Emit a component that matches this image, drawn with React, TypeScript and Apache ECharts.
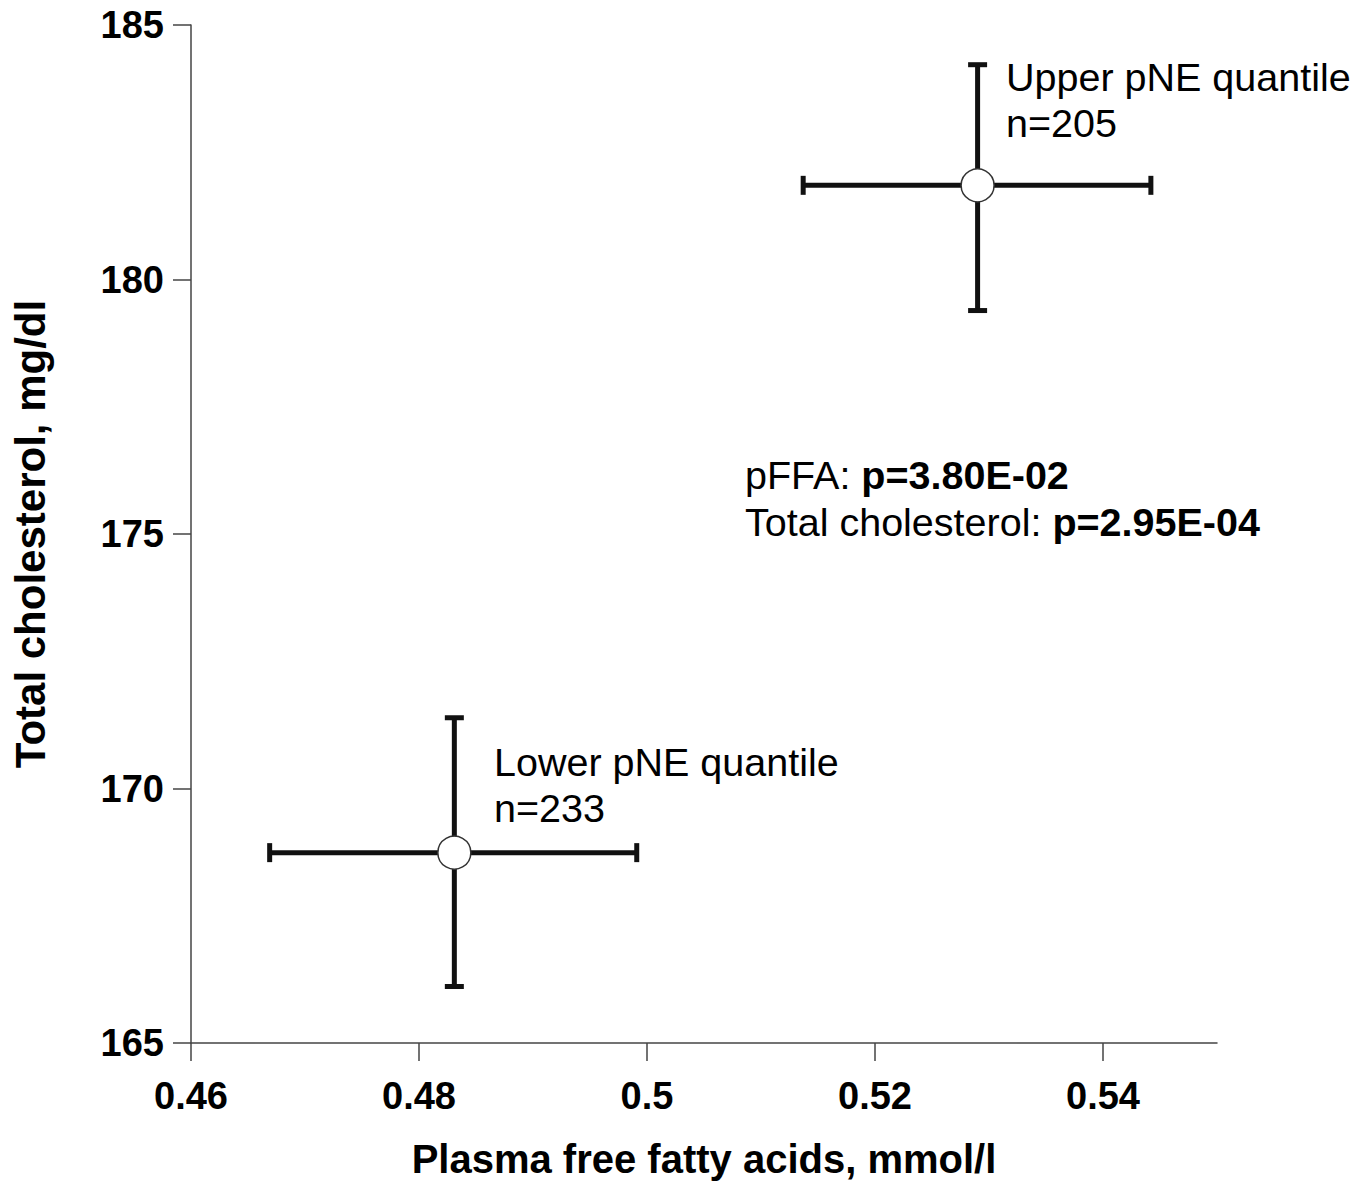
import React, { useEffect, useRef } from "react";
import * as echarts from "echarts";

const groups = ["Lower pNE quantile", "Upper pNE quantile"];
const groupN = [233, 205];
const ffaMean = [0.4831, 0.529];
const ffaLow = [0.4669, 0.5137];
const ffaHigh = [0.4991, 0.5442];
const cholMean = [168.74, 181.85];
const cholLow = [166.11, 179.39];
const cholHigh = [171.39, 184.22];
const xTicks = [0.46, 0.48, 0.5, 0.52, 0.54];
const pFFA = "3.80E-02";
const pChol = "2.95E-04";

const FONT = "'Liberation Sans', Arial, Helvetica, sans-serif";

export default function App() {
  const ref = useRef<HTMLDivElement>(null);
  useEffect(() => {
    if (!ref.current) return;
    const chart = echarts.init(ref.current, null, { renderer: "svg" });
    const errData = groups.map((g, i) => [
      ffaMean[i],
      cholMean[i],
      ffaLow[i],
      ffaHigh[i],
      cholLow[i],
      cholHigh[i],
    ]);
    const pts = groups.map((g, i) => [ffaMean[i], cholMean[i]]);
    const lw = 5;
    const cap = 9.5;
    chart.setOption({
      animation: false,
      backgroundColor: "#ffffff",
      textStyle: { fontFamily: FONT },
      grid: { left: 191, right: 155, top: 25, bottom: 132 },
      xAxis: {
        type: "value",
        min: 0.46,
        max: 0.55,
        interval: 0.02,
        splitLine: { show: false },
        axisLine: { show: true, onZero: false, lineStyle: { color: "#444", width: 1.5 } },
        axisTick: {
          show: true,
          length: 18,
          lineStyle: { color: "#444", width: 1.5 },
          customValues: xTicks,
        },
        axisLabel: {
          customValues: xTicks,
          fontSize: 38,
          fontWeight: "bold",
          color: "#000",
          fontFamily: FONT,
          margin: 34,
        },
        name: "Plasma free fatty acids, mmol/l",
        nameLocation: "middle",
        nameGap: 96,
        nameTextStyle: { fontSize: 40, fontWeight: "bold", color: "#000", fontFamily: FONT },
      },
      yAxis: {
        type: "value",
        min: 165,
        max: 185,
        interval: 5,
        splitLine: { show: false },
        axisLine: { show: true, onZero: false, lineStyle: { color: "#444", width: 1.5 } },
        axisTick: { show: true, length: 18, lineStyle: { color: "#444", width: 1.5 } },
        axisLabel: {
          fontSize: 38,
          fontWeight: "bold",
          color: "#000",
          fontFamily: FONT,
          margin: 27,
        },
        name: "Total cholesterol, mg/dl",
        nameLocation: "middle",
        nameGap: 140,
        nameTextStyle: { fontSize: 42, fontWeight: "bold", color: "#000", fontFamily: FONT },
      },
      series: [
        {
          type: "custom",
          data: errData,
          z: 2,
          renderItem: (params: any, api: any) => {
            const c = api.coord([api.value(0), api.value(1)]);
            const xl = api.coord([api.value(2), api.value(1)]);
            const xh = api.coord([api.value(3), api.value(1)]);
            const yl = api.coord([api.value(0), api.value(4)]);
            const yh = api.coord([api.value(0), api.value(5)]);
            const style = { stroke: "#111", lineWidth: lw };
            return {
              type: "group",
              children: [
                { type: "line", shape: { x1: xl[0], y1: c[1], x2: xh[0], y2: c[1] }, style },
                { type: "line", shape: { x1: xl[0], y1: c[1] - cap, x2: xl[0], y2: c[1] + cap }, style },
                { type: "line", shape: { x1: xh[0], y1: c[1] - cap, x2: xh[0], y2: c[1] + cap }, style },
                { type: "line", shape: { x1: c[0], y1: yl[1], x2: c[0], y2: yh[1] }, style },
                { type: "line", shape: { x1: c[0] - cap, y1: yl[1], x2: c[0] + cap, y2: yl[1] }, style },
                { type: "line", shape: { x1: c[0] - cap, y1: yh[1], x2: c[0] + cap, y2: yh[1] }, style },
              ],
            };
          },
        },
        {
          type: "scatter",
          data: pts,
          z: 5,
          symbol: "circle",
          symbolSize: 33,
          itemStyle: { color: "#ffffff", borderColor: "#333", borderWidth: 1.5, opacity: 1 },
        },
      ],
      graphic: [
        {
          type: "text",
          left: 1006,
          top: 54,
          style: {
            text: groups[1] + "\nn=" + groupN[1],
            fontSize: 39.5,
            lineHeight: 46,
            fontFamily: FONT,
            fill: "#000",
          },
        },
        {
          type: "text",
          left: 494,
          top: 739,
          style: {
            text: groups[0] + "\nn=" + groupN[0],
            fontSize: 39.5,
            lineHeight: 46,
            fontFamily: FONT,
            fill: "#000",
          },
        },
        {
          type: "text",
          left: 745,
          top: 451,
          style: {
            text: "pFFA: {b|p=" + pFFA + "}\nTotal cholesterol: {b|p=" + pChol + "}",
            fontSize: 39.5,
            lineHeight: 47,
            fontFamily: FONT,
            fill: "#000",
            rich: {
              b: { fontSize: 39.5, fontWeight: "bold", fontFamily: FONT, fill: "#000", lineHeight: 47 },
            },
          },
        },
      ],
    });
    return () => chart.dispose();
  }, []);
  return (
    <div
      ref={ref}
      style={{ position: "absolute", left: 0, top: 0, width: 1372, height: 1184 }}
    />
  );
}
